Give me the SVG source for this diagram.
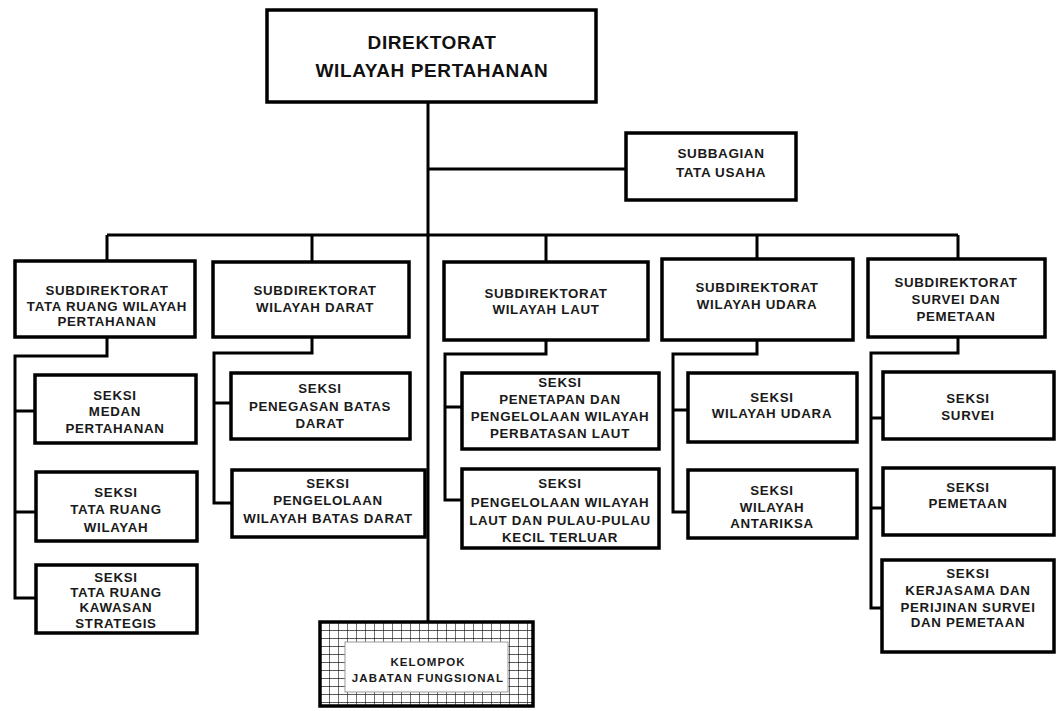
<svg xmlns="http://www.w3.org/2000/svg" width="1059" height="711" viewBox="0 0 1059 711">
<defs>
<style>
.box{fill:#fff;stroke:#000;stroke-width:3.5}
.ln{fill:none;stroke:#000;stroke-width:3}
.t{font-family:"Liberation Sans",Arial,sans-serif;font-weight:bold;font-size:13.3px;letter-spacing:0.7px;text-anchor:middle;fill:#1a1a1a}
.h{font-size:19px;letter-spacing:0.6px;fill:#111}
.s{font-size:13.5px;letter-spacing:0.6px}
.k{font-size:11.5px;letter-spacing:1.1px}
</style>
<pattern id="grid" patternUnits="userSpaceOnUse" x="320" y="622" width="9" height="8">
<rect width="9" height="8" fill="#fff"/>
<path d="M0,0V8M0,0H9" stroke="#222" stroke-width="1.3" fill="none"/>
</pattern>
</defs>
<rect width="1059" height="711" fill="#fff"/>

<g id="connectors">
<path class="ln" d="M428,102V622"/>
<path class="ln" d="M428,169H626"/>
<path class="ln" d="M107,235H958"/>
<path class="ln" d="M107,235V261M312,235V262M546,235V262M757,235V259M958,235V259"/>
<path class="ln" d="M107,337V356H15V598H36M15,411H35M15,512H36"/>
<path class="ln" d="M312,337V353H214V503H232M214,403H231"/>
<path class="ln" d="M546,340V354H445V500H462M445,407H462"/>
<path class="ln" d="M757,340V354H673V512H688M673,410H688"/>
<path class="ln" d="M958,337V353H871V608H882M871,418H883M871,508H883"/>
</g>

<g id="direktorat">
<rect class="box" x="267" y="10" width="329" height="92"/>
<text class="t h" x="432" y="49">DIREKTORAT</text>
<text class="t h" x="432" y="77">WILAYAH PERTAHANAN</text>
</g>

<g id="subbagian">
<rect class="box" x="626" y="133" width="170" height="67"/>
<text class="t s" x="721" y="158">SUBBAGIAN</text>
<text class="t s" x="721" y="177">TATA USAHA</text>
</g>

<g id="subdir-tata-ruang">
<rect class="box" x="15" y="261" width="180" height="76"/>
<text class="t" x="107" y="294.5">SUBDIREKTORAT</text>
<text class="t" x="107" y="310.5">TATA RUANG WILAYAH</text>
<text class="t" x="107" y="325.5">PERTAHANAN</text>
</g>

<g id="subdir-darat">
<rect class="box" x="213" y="262" width="196" height="75"/>
<text class="t" x="315" y="294.5">SUBDIREKTORAT</text>
<text class="t" x="315" y="311.5">WILAYAH DARAT</text>
</g>

<g id="subdir-laut">
<rect class="box" x="444" y="262" width="204" height="78"/>
<text class="t" x="546" y="297.5">SUBDIREKTORAT</text>
<text class="t" x="546" y="314">WILAYAH LAUT</text>
</g>

<g id="subdir-udara">
<rect class="box" x="662" y="259" width="191" height="81"/>
<text class="t" x="757" y="291.5">SUBDIREKTORAT</text>
<text class="t" x="757" y="308.5">WILAYAH UDARA</text>
</g>

<g id="subdir-survei">
<rect class="box" x="868" y="259" width="177" height="78"/>
<text class="t" x="956" y="286.5">SUBDIREKTORAT</text>
<text class="t" x="956" y="303.5">SURVEI DAN</text>
<text class="t" x="956" y="320.5">PEMETAAN</text>
</g>

<g id="seksi-medan">
<rect class="box" x="35" y="375" width="161" height="68"/>
<text class="t" x="115" y="399.5">SEKSI</text>
<text class="t" x="115" y="415.5">MEDAN</text>
<text class="t" x="115" y="432.5">PERTAHANAN</text>
</g>

<g id="seksi-tr-wilayah">
<rect class="box" x="36" y="472" width="161" height="69"/>
<text class="t" x="116" y="496.5">SEKSI</text>
<text class="t" x="116" y="513.5">TATA RUANG</text>
<text class="t" x="116" y="531.5">WILAYAH</text>
</g>

<g id="seksi-tr-kawasan">
<rect class="box" x="36" y="565" width="161" height="68"/>
<text class="t" x="116" y="581.5">SEKSI</text>
<text class="t" x="116" y="596.5">TATA RUANG</text>
<text class="t" x="116" y="611.5">KAWASAN</text>
<text class="t" x="116" y="627.5">STRATEGIS</text>
</g>

<g id="seksi-penegasan">
<rect class="box" x="231" y="373" width="179" height="66"/>
<text class="t" x="320" y="392.5">SEKSI</text>
<text class="t" x="320" y="410.5">PENEGASAN BATAS</text>
<text class="t" x="320" y="427.5">DARAT</text>
</g>

<g id="seksi-pengelolaan-darat">
<rect class="box" x="232" y="470" width="193" height="67"/>
<text class="t" x="328" y="487.5">SEKSI</text>
<text class="t" x="328" y="504.5">PENGELOLAAN</text>
<text class="t" x="328" y="522.5">WILAYAH BATAS DARAT</text>
</g>

<g id="seksi-penetapan-laut">
<rect class="box" x="462" y="373" width="197" height="76"/>
<text class="t" x="560" y="386.5">SEKSI</text>
<text class="t" x="560" y="403.5">PENETAPAN DAN</text>
<text class="t" x="560" y="420.5">PENGELOLAAN WILAYAH</text>
<text class="t" x="560" y="437.5">PERBATASAN LAUT</text>
</g>

<g id="seksi-pengelolaan-laut">
<rect class="box" x="462" y="469" width="197" height="79"/>
<text class="t" x="560" y="487.5">SEKSI</text>
<text class="t" x="560" y="506.5">PENGELOLAAN WILAYAH</text>
<text class="t" x="560" y="524.5">LAUT DAN PULAU-PULAU</text>
<text class="t" x="560" y="541.5">KECIL TERLUAR</text>
</g>

<g id="seksi-wilayah-udara">
<rect class="box" x="688" y="373" width="169" height="69"/>
<text class="t" x="772" y="401.5">SEKSI</text>
<text class="t" x="772" y="417.5">WILAYAH UDARA</text>
</g>

<g id="seksi-antariksa">
<rect class="box" x="688" y="470" width="169" height="68"/>
<text class="t" x="772" y="494.5">SEKSI</text>
<text class="t" x="772" y="511.5">WILAYAH</text>
<text class="t" x="772" y="527.5">ANTARIKSA</text>
</g>

<g id="seksi-survei">
<rect class="box" x="883" y="372" width="171" height="67"/>
<text class="t" x="968" y="402.5">SEKSI</text>
<text class="t" x="968" y="419.5">SURVEI</text>
</g>

<g id="seksi-pemetaan">
<rect class="box" x="883" y="468" width="171" height="67"/>
<text class="t" x="968" y="491.5">SEKSI</text>
<text class="t" x="968" y="507.5">PEMETAAN</text>
</g>

<g id="seksi-kerjasama">
<rect class="box" x="882" y="560" width="172" height="92"/>
<text class="t" x="968" y="577.5">SEKSI</text>
<text class="t" x="968" y="594.5">KERJASAMA DAN</text>
<text class="t" x="968" y="611.5">PERIJINAN SURVEI</text>
<text class="t" x="968" y="626.5">DAN PEMETAAN</text>
</g>

<g id="kelompok-jabatan-fungsional">
<rect x="320" y="622" width="213" height="84" fill="url(#grid)" stroke="#000" stroke-width="3.5"/>
<rect x="345" y="642" width="163" height="50" fill="#fff" stroke="#999" stroke-width="1"/>
<text class="t k" x="428" y="666">KELOMPOK</text>
<text class="t k" x="428" y="682">JABATAN FUNGSIONAL</text>
</g>
</svg>
